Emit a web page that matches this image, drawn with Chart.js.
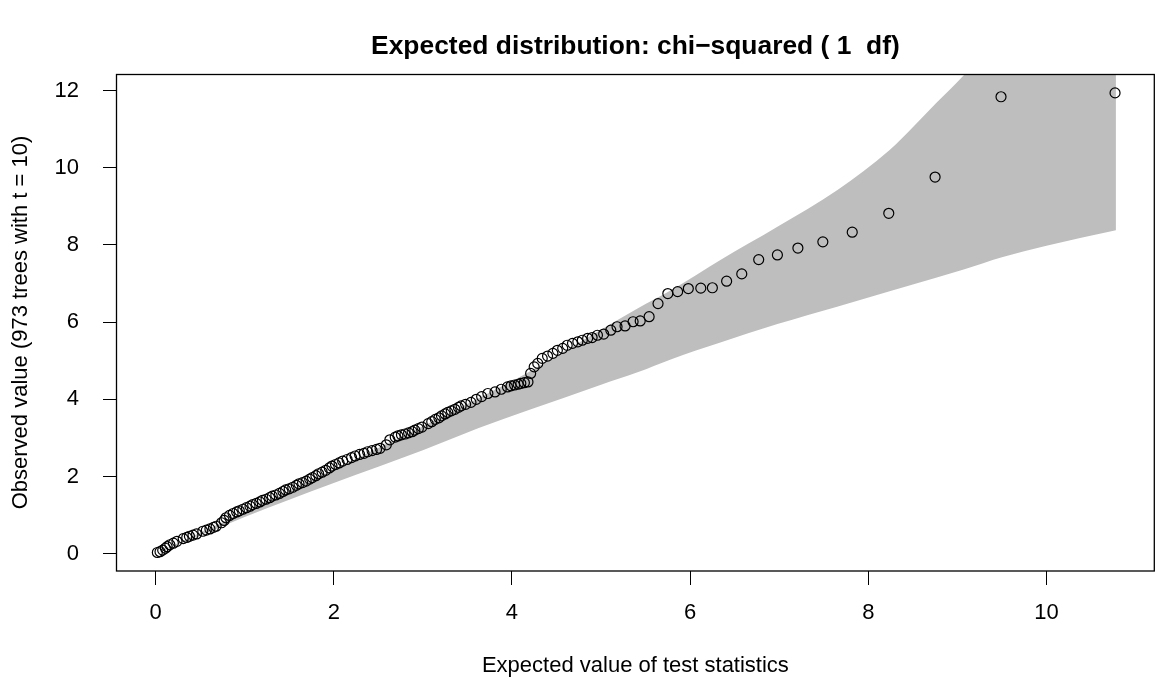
<!DOCTYPE html>
<html>
<head>
<meta charset="utf-8">
<script src="https://cdn.jsdelivr.net/npm/chart.js@4"></script>
<style>
  html, body { margin: 0; padding: 0; background: #fff; overflow: hidden; }
</style>
</head>
<body>
<canvas id="qqChart" width="1160" height="681"></canvas>
<script>
// observed vs expected (chi-squared, 1 df)
const expectedValues = [0.02,0.05,0.08,0.11,0.13,0.16,0.20,0.24,0.31,0.35,0.38,0.42,0.46,0.53,0.57,0.61,0.65,0.68,0.74,0.77,0.79,0.83,0.87,0.91,0.94,0.98,1.02,1.06,1.09,1.13,1.17,1.20,1.24,1.28,1.31,1.35,1.39,1.43,1.46,1.50,1.54,1.58,1.61,1.65,1.69,1.73,1.76,1.80,1.83,1.87,1.91,1.95,1.98,2.02,2.06,2.10,2.15,2.20,2.24,2.29,2.34,2.38,2.43,2.48,2.52,2.59,2.63,2.69,2.72,2.76,2.80,2.84,2.88,2.91,2.95,2.99,3.06,3.10,3.14,3.18,3.21,3.25,3.28,3.32,3.36,3.40,3.43,3.48,3.54,3.60,3.66,3.73,3.81,3.88,3.95,3.99,4.03,4.07,4.10,4.14,4.18,4.21,4.25,4.29,4.34,4.40,4.46,4.51,4.57,4.62,4.68,4.74,4.79,4.85,4.90,4.96,5.03,5.11,5.18,5.27,5.36,5.44,5.54,5.64,5.75,5.86,5.98,6.12,6.25,6.41,6.58,6.77,6.98,7.21,7.49,7.82,8.23,8.75,9.49,10.77]
const observedValues = [0.03,0.05,0.09,0.14,0.18,0.23,0.27,0.32,0.39,0.42,0.45,0.48,0.51,0.58,0.61,0.64,0.68,0.71,0.80,0.86,0.93,0.99,1.04,1.08,1.11,1.15,1.19,1.23,1.27,1.30,1.34,1.38,1.41,1.45,1.49,1.52,1.56,1.61,1.65,1.68,1.72,1.77,1.81,1.84,1.88,1.93,1.97,2.02,2.07,2.11,2.16,2.22,2.27,2.31,2.35,2.40,2.44,2.49,2.53,2.57,2.60,2.64,2.67,2.70,2.73,2.82,2.95,3.02,3.05,3.08,3.10,3.13,3.16,3.20,3.24,3.28,3.37,3.42,3.48,3.52,3.57,3.62,3.66,3.70,3.74,3.79,3.83,3.87,3.92,4.00,4.07,4.15,4.19,4.26,4.32,4.35,4.37,4.39,4.41,4.43,4.45,4.67,4.84,4.93,5.06,5.12,5.19,5.27,5.32,5.40,5.45,5.49,5.53,5.58,5.60,5.66,5.69,5.79,5.88,5.90,6.01,6.03,6.14,6.48,6.74,6.79,6.87,6.88,6.89,7.06,7.25,7.62,7.74,7.92,8.08,8.33,8.82,9.76,11.84,11.94]

// grey confidence band
const bandX = [0, 0.5, 1, 2, 3, 3.62, 4.19, 5, 5.41, 5.79, 6.34, 6.98, 7.65, 8.24, 8.76, 9.08, 9.5, 10, 10.78]
const bandLower = [0, 0.47, 0.95, 1.83, 2.68, 3.25, 3.72, 4.38, 4.70, 5.04, 5.47, 5.95, 6.40, 6.80, 7.15, 7.37, 7.68, 7.98, 8.38]
const bandUpper = [0, 0.54, 1.08, 2.18, 3.30, 4.02, 4.71, 5.80, 6.35, 6.83, 7.61, 8.47, 9.42, 10.46, 11.67, 12.42, 13.5, 14.8, 16.9]

const xTicks = [0, 2, 4, 6, 8, 10]
const yTicks = [0, 2, 4, 6, 8, 10, 12]

const titleText = 'Expected distribution: chi\u2212squared ( 1  df)'
const FONT = '"Liberation Sans", Arial, Helvetica, sans-serif'

const toXY = (xs, ys) => xs.map((x, i) => ({ x, y: ys[i] }))

// R style box + main title
const boxAndTitle = {
  id: 'boxAndTitle',
  afterDraw (chart) {
    const { ctx, chartArea } = chart
    ctx.save()
    ctx.strokeStyle = '#000'
    ctx.lineWidth = 1.3
    ctx.strokeRect(chartArea.left - 0.5, chartArea.top + 0.5,
      chartArea.right - chartArea.left + 1, chartArea.bottom - chartArea.top - 0.5)
    ctx.fillStyle = '#000'
    ctx.font = 'bold 26.4px ' + FONT
    ctx.textAlign = 'center'
    ctx.textBaseline = 'middle'
    ctx.fillText(titleText, (chartArea.left + chartArea.right) / 2, 47)
    ctx.restore()
  }
}

const ctx = document.getElementById('qqChart')

new Chart(ctx, {
  type: 'scatter',
  data: {
    datasets: [
      {
        label: 'observed',
        data: toXY(expectedValues, observedValues),
        pointStyle: 'circle',
        pointRadius: 5,
        pointBorderWidth: 1.2,
        pointBorderColor: '#000',
        pointBackgroundColor: 'rgba(0,0,0,0)',
        order: 0
      },
      {
        label: 'lower',
        data: toXY(bandX, bandLower),
        showLine: true,
        cubicInterpolationMode: 'monotone',
        pointRadius: 0,
        borderWidth: 0,
        borderColor: 'rgba(0,0,0,0)',
        fill: false,
        order: 1
      },
      {
        label: 'upper',
        data: toXY(bandX, bandUpper),
        showLine: true,
        cubicInterpolationMode: 'monotone',
        pointRadius: 0,
        borderWidth: 0,
        borderColor: 'rgba(0,0,0,0)',
        backgroundColor: '#bebebe',
        fill: '-1',
        order: 2
      }
    ]
  },
  options: {
    responsive: false,
    animation: false,
    devicePixelRatio: 1,
    layout: { padding: { top: 74, left: 0, right: 0, bottom: 0 } },
    plugins: {
      legend: { display: false },
      tooltip: { enabled: false },
      title: { display: false }
    },
    scales: {
      x: {
        type: 'linear',
        min: -0.433,
        max: 11.205,
        afterBuildTicks: (scale) => { scale.ticks = xTicks.map(v => ({ value: v })) },
        afterFit: (scale) => { scale.height = 110 },
        grid: { drawOnChartArea: false, drawTicks: true, tickLength: 14, tickColor: '#000', tickWidth: 1 },
        border: { display: false },
        ticks: { color: '#000', padding: 15, maxRotation: 0, font: { family: FONT, size: 22 } },
        title: {
          display: true,
          text: 'Expected value of test statistics',
          color: '#000',
          padding: { top: 0, bottom: 2 },
          font: { family: FONT, size: 22 }
        }
      },
      y: {
        type: 'linear',
        min: -0.45,
        max: 12.43,
        afterBuildTicks: (scale) => { scale.ticks = yTicks.map(v => ({ value: v })) },
        afterFit: (scale) => { scale.width = 117 },
        grid: { drawOnChartArea: false, drawTicks: true, tickLength: 14, tickColor: '#000', tickWidth: 1 },
        border: { display: false },
        ticks: { color: '#000', padding: 24, font: { family: FONT, size: 22 } },
        title: {
          display: true,
          text: 'Observed value (973 trees with t = 10)',
          color: '#000',
          padding: { top: 8, bottom: 0 },
          font: { family: FONT, size: 22 }
        }
      }
    }
  },
  plugins: [boxAndTitle]
})
</script>
</body>
</html>
